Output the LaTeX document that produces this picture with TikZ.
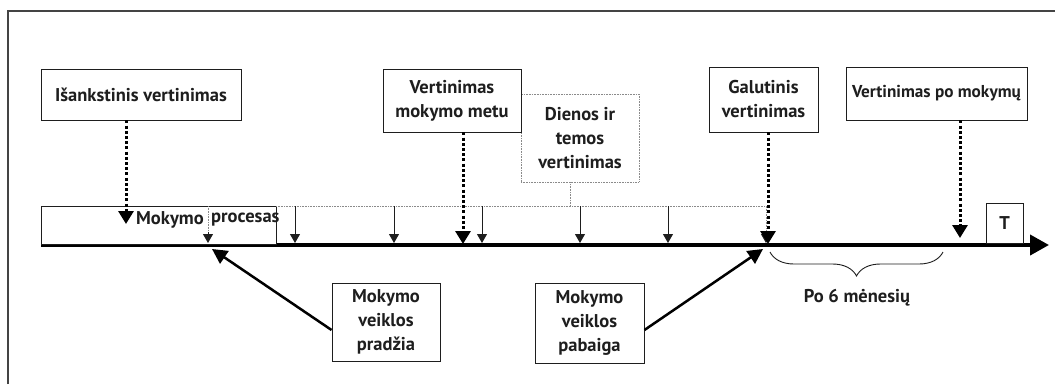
\documentclass[tikz,border=0pt]{standalone}
\usepackage{fontspec}
\setmainfont{PT Sans}
\usetikzlibrary{arrows.meta,decorations.pathreplacing}
\definecolor{ink}{HTML}{1E1E1E}
\definecolor{framegray}{HTML}{444444}
\definecolor{dotgray}{HTML}{8A8A8A}
\begin{document}
\begin{tikzpicture}[x=1pt,y=-1pt,
  every node/.style={font=\fontsize{18.5}{24}\selectfont\bfseries, text=ink, inner sep=0pt},
  labelbox/.style={draw=ink, line width=0.9pt, fill=white, align=center},
  dailybox/.style={draw=dotgray, line width=0.9pt, dash pattern=on 1pt off 0.6pt, fill=white, align=center},
  bigdot/.style={line width=3pt, dash pattern=on 3pt off 2.2pt, -{Triangle[length=13pt,width=15pt]}},
  tick/.style={line width=1pt, draw=ink, -{Triangle[length=9pt,width=10pt]}},
  grayline/.style={draw=dotgray, line width=1pt, dash pattern=on 1pt off 0.6pt},
  pointer/.style={line width=2.5pt, -{Triangle[length=15pt,width=15pt]}}
]
\useasboundingbox (0,0) rectangle (1055,384);
\fill[white] (0,0) rectangle (1055,384);

% frame edges
\draw[framegray, line width=1.4pt] (8,384) -- (8,11) -- (1055,11);

% time axis
\coordinate (axisL) at (41,245);
\coordinate (axisR) at (1049,245);
\draw[line width=4pt, -{Triangle[length=19pt,width=20pt]}] (axisL) -- (axisR);

% teaching process strip
\node[draw=ink, line width=0.9pt, fill=white, minimum width=235pt, minimum height=38pt, anchor=north west] (proc) at (41,206) {};
\node[anchor=east] (procA) at (204,220) {Mokymo};
\node[anchor=west] (procB) at (211,220) {procesas};
\coordinate (p0top) at (208,206);
\coordinate (p0bot) at (208,243);
\draw[grayline] (p0top) -- (208,233);
\draw[tick] (208,232) -- (p0bot);

% daily assessment bracket line
\coordinate (gl0) at (276,206);
\coordinate (gl1) at (766,206);
\draw[grayline] (gl0) -- (gl1) -- (766,236);

% small ticks
\foreach \xx/\nm in {295/t1,394/t2,482/t3,580/t4,668/t5}{
  \coordinate (\nm top) at (\xx,206);
  \coordinate (\nm bot) at (\xx,243);
  \draw[tick] (\nm top) -- (\nm bot);
}
\draw[tick] (766,232) -- (766,243);

% boxes
\node[labelbox, minimum width=200pt, minimum height=51pt] (pre) at (141,94.5) {Išankstinis vertinimas};
\node[dailybox, minimum width=118pt, minimum height=88pt] (daily) at (580,138) {Dienos ir\\temos\\vertinimas};
\node[labelbox, minimum width=138pt, minimum height=63pt] (during) at (452,100.5) {Vertinimas\\mokymo metu};
\node[labelbox, minimum width=109pt, minimum height=65pt] (final) at (763.5,99.5) {Galutinis\\vertinimas};
\node[labelbox, minimum width=181pt, minimum height=53pt, font=\fontsize{17.2}{24}\selectfont\bfseries] (after) at (936.5,93.5) {Vertinimas po mokymų};
\node[labelbox, minimum width=37pt, minimum height=40pt] (T) at (1004.5,223) {T};
\node[labelbox, minimum width=108pt, minimum height=78pt] (start) at (386,322) {Mokymo\\veiklos\\pradžia};
\node[labelbox, minimum width=109pt, minimum height=80pt] (end) at (589.5,323) {Mokymo\\veiklos\\pabaiga};

% connector from daily box to the bracket line
\coordinate (dj) at (570,206);
\draw[grayline] (daily.south -| dj) -- (dj);

% dotted assessment arrows
\coordinate (preTip) at (126,224);
\coordinate (duringTip) at (463,244);
\coordinate (finalTip) at (768,244);
\coordinate (afterTip) at (960,238);
\draw[bigdot] (pre.south -| preTip) -- (preTip);
\draw[bigdot] (during.south -| duringTip) -- (duringTip);
\draw[bigdot] (final.south -| finalTip) -- (finalTip);
\draw[bigdot] (after.south -| afterTip) -- (afterTip);

% start and end pointers
\coordinate (startTip) at (212,249);
\coordinate (endTip) at (763,249);
\draw[pointer] (start.west |- 0,330) -- (startTip);
\draw[pointer] (end.east |- 0,330) -- (endTip);

% six months brace
\coordinate (brL) at (770,252);
\coordinate (brR) at (943,252);
\draw[ink, line width=0.9pt, decorate, decoration={brace, mirror, amplitude=24pt, raise=0pt}] (brL) -- (brR);
\node (months) at (857,298) {Po 6 mėnesių};
\end{tikzpicture}
\end{document}
